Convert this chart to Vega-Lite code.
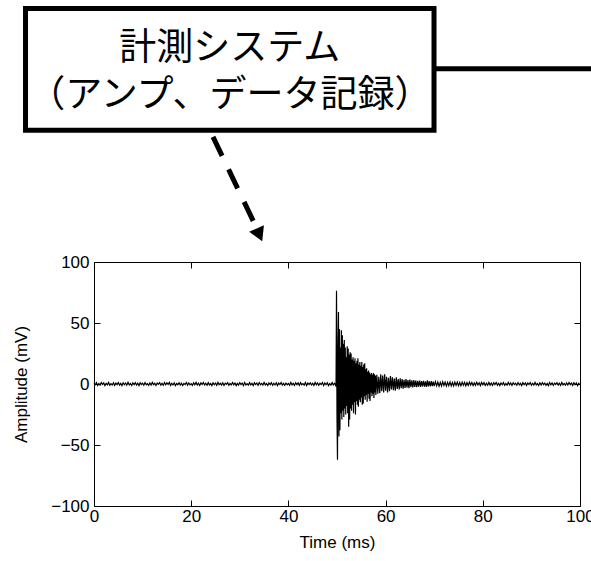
{
  "$schema": "https://vega.github.io/schema/vega-lite/v6.json",
  "width": 486,
  "height": 244,
  "autosize": {"type": "none"},
  "padding": {"left": 94, "top": 262, "right": 11, "bottom": 55},
  "background": "white",
  "config": {
    "view": {"stroke": "black", "strokeWidth": 1},
    "axis": {
      "grid": false,
      "domain": false,
      "tickColor": "black",
      "tickWidth": 1,
      "labelColor": "black",
      "titleColor": "black",
      "labelFont": "Liberation Sans",
      "titleFont": "Liberation Sans",
      "labelFontSize": 17,
      "titleFontSize": 17,
      "titleFontWeight": "normal",
      "labelFlush": false
    }
  },
  "datasets": {
    "signal": [
      {"t": 0.0, "v": 0.8}, {"t": 0.25, "v": -0.6}, {"t": 0.5, "v": 1.1}, {"t": 0.75, "v": -1.2}, {"t": 1.0, "v": 0.4},
      {"t": 1.25, "v": -0.9}, {"t": 1.5, "v": 1.2}, {"t": 1.75, "v": -0.4}, {"t": 2.0, "v": 0.9}, {"t": 2.25, "v": -1.3},
      {"t": 2.5, "v": 0.6}, {"t": 2.75, "v": -0.7}, {"t": 3.0, "v": 1.3}, {"t": 3.25, "v": -1.0}, {"t": 3.5, "v": 0.3},
      {"t": 3.75, "v": -0.8}, {"t": 4.0, "v": 1.0}, {"t": 4.25, "v": -1.1}, {"t": 4.5, "v": 0.7}, {"t": 4.75, "v": -0.5},
      {"t": 5.0, "v": 1.2}, {"t": 5.25, "v": -0.9}, {"t": 5.5, "v": 0.5}, {"t": 5.75, "v": -1.3}, {"t": 6.0, "v": 1.0},
      {"t": 6.25, "v": -0.6}, {"t": 6.5, "v": 0.8}, {"t": 6.75, "v": -1.0}, {"t": 7.0, "v": 1.4}, {"t": 7.25, "v": -0.7},
      {"t": 7.5, "v": 0.4}, {"t": 7.75, "v": -1.2}, {"t": 8.0, "v": 0.9}, {"t": 8.25, "v": -0.5}, {"t": 8.5, "v": 1.1},
      {"t": 8.75, "v": -0.9}, {"t": 9.0, "v": 0.6}, {"t": 9.25, "v": -1.3}, {"t": 9.5, "v": 1.0}, {"t": 9.75, "v": -0.4},
      {"t": 10.0, "v": 0.7}, {"t": 10.25, "v": -1.0}, {"t": 10.5, "v": 1.2}, {"t": 10.75, "v": -0.6}, {"t": 11.0, "v": 0.3},
      {"t": 11.25, "v": -1.1}, {"t": 11.5, "v": 0.9}, {"t": 11.75, "v": -0.8}, {"t": 12.0, "v": 1.3}, {"t": 12.25, "v": -0.5},
      {"t": 12.5, "v": 0.6}, {"t": 12.75, "v": -1.2}, {"t": 13.0, "v": 0.8}, {"t": 13.25, "v": -0.3}, {"t": 13.5, "v": 1.1},
      {"t": 13.75, "v": -0.9}, {"t": 14.0, "v": 0.5}, {"t": 14.25, "v": -1.0}, {"t": 14.5, "v": 1.2}, {"t": 14.75, "v": -0.7},
      {"t": 15.0, "v": 0.9}, {"t": 15.25, "v": -0.4}, {"t": 15.5, "v": 1.3}, {"t": 15.75, "v": -1.1}, {"t": 16.0, "v": 0.6},
      {"t": 16.25, "v": -0.8}, {"t": 16.5, "v": 1.0}, {"t": 16.75, "v": -1.3}, {"t": 17.0, "v": 0.4}, {"t": 17.25, "v": -0.6},
      {"t": 17.5, "v": 1.1}, {"t": 17.75, "v": -0.9}, {"t": 18.0, "v": 0.7}, {"t": 18.25, "v": -1.2}, {"t": 18.5, "v": 0.5},
      {"t": 18.75, "v": -0.5}, {"t": 19.0, "v": 1.2}, {"t": 19.25, "v": -1.0}, {"t": 19.5, "v": 0.8}, {"t": 19.75, "v": -0.7},
      {"t": 20.0, "v": 0.3}, {"t": 20.25, "v": -1.1}, {"t": 20.5, "v": 1.0}, {"t": 20.75, "v": -0.6}, {"t": 21.0, "v": 1.3},
      {"t": 21.25, "v": -0.9}, {"t": 21.5, "v": 0.6}, {"t": 21.75, "v": -1.2}, {"t": 22.0, "v": 0.9}, {"t": 22.25, "v": -0.4},
      {"t": 22.5, "v": 1.2}, {"t": 22.75, "v": -0.8}, {"t": 23.0, "v": 0.5}, {"t": 23.25, "v": -1.0}, {"t": 23.5, "v": 1.1},
      {"t": 23.75, "v": -0.7}, {"t": 24.0, "v": 0.4}, {"t": 24.25, "v": -1.3}, {"t": 24.5, "v": 1.0}, {"t": 24.75, "v": -0.6},
      {"t": 25.0, "v": 0.8}, {"t": 25.25, "v": -1.1}, {"t": 25.5, "v": 1.3}, {"t": 25.75, "v": -0.5}, {"t": 26.0, "v": 0.6},
      {"t": 26.25, "v": -0.9}, {"t": 26.5, "v": 1.0}, {"t": 26.75, "v": -1.2}, {"t": 27.0, "v": 0.7}, {"t": 27.25, "v": -0.3},
      {"t": 27.5, "v": 1.1}, {"t": 27.75, "v": -1.0}, {"t": 28.0, "v": 0.4}, {"t": 28.25, "v": -0.8}, {"t": 28.5, "v": 1.2},
      {"t": 28.75, "v": -0.6}, {"t": 29.0, "v": 0.9}, {"t": 29.25, "v": -1.3}, {"t": 29.5, "v": 0.5}, {"t": 29.75, "v": -0.9},
      {"t": 30.0, "v": 1.0}, {"t": 30.25, "v": -0.5}, {"t": 30.5, "v": 0.7}, {"t": 30.75, "v": -1.2}, {"t": 31.0, "v": 1.3},
      {"t": 31.25, "v": -0.8}, {"t": 31.5, "v": 0.3}, {"t": 31.75, "v": -1.0}, {"t": 32.0, "v": 1.1}, {"t": 32.25, "v": -0.7},
      {"t": 32.5, "v": 0.6}, {"t": 32.75, "v": -1.3}, {"t": 33.0, "v": 1.0}, {"t": 33.25, "v": -0.4}, {"t": 33.5, "v": 0.8},
      {"t": 33.75, "v": -1.1}, {"t": 34.0, "v": 1.2}, {"t": 34.25, "v": -0.6}, {"t": 34.5, "v": 0.5}, {"t": 34.75, "v": -0.9},
      {"t": 35.0, "v": 1.3}, {"t": 35.25, "v": -0.7}, {"t": 35.5, "v": 0.4}, {"t": 35.75, "v": -1.2}, {"t": 36.0, "v": 0.9},
      {"t": 36.25, "v": -0.5}, {"t": 36.5, "v": 1.1}, {"t": 36.75, "v": -1.0}, {"t": 37.0, "v": 0.6}, {"t": 37.25, "v": -0.8},
      {"t": 37.5, "v": 1.0}, {"t": 37.75, "v": -1.3}, {"t": 38.0, "v": 0.7}, {"t": 38.25, "v": -0.4}, {"t": 38.5, "v": 1.2},
      {"t": 38.75, "v": -0.9}, {"t": 39.0, "v": 0.5}, {"t": 39.25, "v": -1.1}, {"t": 39.5, "v": 0.8}, {"t": 39.75, "v": -0.6},
      {"t": 40.0, "v": 0.4}, {"t": 40.25, "v": -1.0}, {"t": 40.5, "v": 1.3}, {"t": 40.75, "v": -0.7}, {"t": 41.0, "v": 0.6},
      {"t": 41.25, "v": -1.2}, {"t": 41.5, "v": 1.0}, {"t": 41.75, "v": -0.5}, {"t": 42.0, "v": 0.9}, {"t": 42.25, "v": -1.1},
      {"t": 42.5, "v": 1.1}, {"t": 42.75, "v": -0.6}, {"t": 43.0, "v": 0.3}, {"t": 43.25, "v": -0.9}, {"t": 43.5, "v": 1.2},
      {"t": 43.75, "v": -1.3}, {"t": 44.0, "v": 0.7}, {"t": 44.25, "v": -0.4}, {"t": 44.5, "v": 1.0}, {"t": 44.75, "v": -0.8},
      {"t": 45.0, "v": 0.5}, {"t": 45.25, "v": -1.1}, {"t": 45.5, "v": 1.3}, {"t": 45.75, "v": -0.7}, {"t": 46.0, "v": 0.9},
      {"t": 46.25, "v": -1.0}, {"t": 46.5, "v": 0.6}, {"t": 46.75, "v": -0.5}, {"t": 47.0, "v": 1.2}, {"t": 47.25, "v": -1.2},
      {"t": 47.5, "v": 0.8}, {"t": 47.75, "v": -0.6}, {"t": 48.0, "v": 1.0}, {"t": 48.25, "v": -1.3}, {"t": 48.5, "v": 0.4},
      {"t": 48.75, "v": -0.9}, {"t": 49.0, "v": 1.1}, {"t": 49.25, "v": -0.7}, {"t": 49.5, "v": 0.6},
      {"t": 49.7, "v": -0.8}, {"t": 49.8, "v": -2}, {"t": 49.9, "v": 76.5}, {"t": 50.0, "v": -28}, {"t": 50.1, "v": -62},
      {"t": 50.2, "v": 34}, {"t": 50.3, "v": 59}, {"t": 50.4, "v": -43}, {"t": 50.5, "v": 45}, {"t": 50.6, "v": -38},
      {"t": 50.7, "v": 30}, {"t": 50.8, "v": -24}, {"t": 50.9, "v": 44}, {"t": 51.0, "v": -29}, {"t": 51.1, "v": 40},
      {"t": 51.2, "v": -22}, {"t": 51.3, "v": 33}, {"t": 51.4, "v": -27}, {"t": 51.5, "v": 36}, {"t": 51.6, "v": -20},
      {"t": 51.7, "v": 30}, {"t": 51.8, "v": -25}, {"t": 51.9, "v": 22}, {"t": 52.0, "v": -18}, {"t": 52.1, "v": 31},
      {"t": 52.2, "v": -24}, {"t": 52.3, "v": 29}, {"t": 52.4, "v": -35}, {"t": 52.5, "v": 24}, {"t": 52.6, "v": -29},
      {"t": 52.7, "v": 26}, {"t": 52.8, "v": -20}, {"t": 52.9, "v": 25}, {"t": 53.0, "v": -22}, {"t": 53.1, "v": 20},
      {"t": 53.2, "v": -17}, {"t": 53.3, "v": 22}, {"t": 53.4, "v": -24}, {"t": 53.5, "v": 19}, {"t": 53.6, "v": -15},
      {"t": 53.7, "v": 21}, {"t": 53.8, "v": -25}, {"t": 53.9, "v": 17}, {"t": 54.0, "v": -14}, {"t": 54.1, "v": 19},
      {"t": 54.2, "v": -17}, {"t": 54.3, "v": 21}, {"t": 54.4, "v": -18.6}, {"t": 54.5, "v": 16}, {"t": 54.6, "v": -13},
      {"t": 54.7, "v": 18}, {"t": 54.8, "v": -15}, {"t": 54.9, "v": 15}, {"t": 55.0, "v": -11}, {"t": 55.1, "v": 18},
      {"t": 55.2, "v": -17}, {"t": 55.3, "v": 14}, {"t": 55.4, "v": -16}, {"t": 55.5, "v": 16}, {"t": 55.6, "v": -10},
      {"t": 55.7, "v": 17}, {"t": 55.8, "v": -13}, {"t": 55.9, "v": 12}, {"t": 56.0, "v": -9}, {"t": 56.1, "v": 13},
      {"t": 56.2, "v": -14.5}, {"t": 56.3, "v": 10}, {"t": 56.4, "v": -8}, {"t": 56.5, "v": 11}, {"t": 56.6, "v": -12},
      {"t": 56.7, "v": 9.5}, {"t": 56.8, "v": -14}, {"t": 56.9, "v": 8}, {"t": 57.0, "v": -7}, {"t": 57.1, "v": 9},
      {"t": 57.2, "v": -10}, {"t": 57.3, "v": 7.5}, {"t": 57.4, "v": -8}, {"t": 57.5, "v": 9}, {"t": 57.6, "v": -11.5},
      {"t": 57.7, "v": 8}, {"t": 57.8, "v": -7}, {"t": 57.9, "v": 7}, {"t": 58.0, "v": -9},
      {"t": 58.2, "v": 7.5}, {"t": 58.4, "v": -8}, {"t": 58.6, "v": 6}, {"t": 58.8, "v": -7.5}, {"t": 59.0, "v": 8},
      {"t": 59.2, "v": -6}, {"t": 59.4, "v": 7}, {"t": 59.6, "v": -7}, {"t": 59.8, "v": 8}, {"t": 60.0, "v": -5.5},
      {"t": 60.2, "v": 6}, {"t": 60.4, "v": -7}, {"t": 60.6, "v": 5}, {"t": 60.8, "v": -6}, {"t": 61.0, "v": 6.5},
      {"t": 61.2, "v": -4.5}, {"t": 61.4, "v": 5.5}, {"t": 61.6, "v": -5}, {"t": 61.8, "v": 4.5}, {"t": 62.0, "v": -5.5},
      {"t": 62.2, "v": 5.5}, {"t": 62.4, "v": -4}, {"t": 62.6, "v": 4}, {"t": 62.8, "v": -4.5}, {"t": 63.0, "v": 4.6},
      {"t": 63.2, "v": -3.5}, {"t": 63.4, "v": 4}, {"t": 63.6, "v": -3.8}, {"t": 63.8, "v": 3.5}, {"t": 64.0, "v": -3.2},
      {"t": 64.2, "v": 4}, {"t": 64.4, "v": -3}, {"t": 64.6, "v": 3.2}, {"t": 64.8, "v": -3.4}, {"t": 65.0, "v": 3.6},
      {"t": 65.2, "v": -2.6}, {"t": 65.4, "v": 3}, {"t": 65.6, "v": -2.8}, {"t": 65.8, "v": 3.3}, {"t": 66.0, "v": -2.4},
      {"t": 66.2, "v": 2.8}, {"t": 66.4, "v": -2.6}, {"t": 66.6, "v": 2.5}, {"t": 66.8, "v": -2.2}, {"t": 67.0, "v": 2.7},
      {"t": 67.2, "v": -2.3}, {"t": 67.4, "v": 2.4}, {"t": 67.6, "v": -2}, {"t": 67.8, "v": 2.6}, {"t": 68.0, "v": -2.1},
      {"t": 68.2, "v": 2.2}, {"t": 68.4, "v": -2.4}, {"t": 68.6, "v": 3}, {"t": 68.8, "v": -1.9}, {"t": 69.0, "v": 2.1},
      {"t": 69.2, "v": -2}, {"t": 69.4, "v": 2.3}, {"t": 69.6, "v": -1.8}, {"t": 69.8, "v": 2}, {"t": 70.0, "v": -1.7},
      {"t": 70.25, "v": 1.9}, {"t": 70.5, "v": -1.5}, {"t": 70.75, "v": 1.6}, {"t": 71.0, "v": -1.8}, {"t": 71.25, "v": 1.3},
      {"t": 71.5, "v": -1.6}, {"t": 71.75, "v": 1.8}, {"t": 72.0, "v": -1.2}, {"t": 72.25, "v": 1.5}, {"t": 72.5, "v": -1.7},
      {"t": 72.75, "v": 1.4}, {"t": 73.0, "v": -1.3}, {"t": 73.25, "v": 1.7}, {"t": 73.5, "v": -1.5}, {"t": 73.75, "v": 1.2},
      {"t": 74.0, "v": -1.6}, {"t": 74.25, "v": 1.5}, {"t": 74.5, "v": -1.1}, {"t": 74.75, "v": 1.6}, {"t": 75.0, "v": -1.4},
      {"t": 75.25, "v": 1.2}, {"t": 75.5, "v": -1.5}, {"t": 75.75, "v": 1.4}, {"t": 76.0, "v": -1.0}, {"t": 76.25, "v": 1.3},
      {"t": 76.5, "v": -1.4}, {"t": 76.75, "v": 1.1}, {"t": 77.0, "v": -1.2}, {"t": 77.25, "v": 1.5}, {"t": 77.5, "v": -0.9},
      {"t": 77.75, "v": 1.2}, {"t": 78.0, "v": -1.3}, {"t": 78.25, "v": 0.9}, {"t": 78.5, "v": -1.1}, {"t": 78.75, "v": 1.4},
      {"t": 79.0, "v": -0.8}, {"t": 79.25, "v": 1.0}, {"t": 79.5, "v": -1.3}, {"t": 79.75, "v": 1.2}, {"t": 80.0, "v": -0.7},
      {"t": 80.25, "v": 1.1}, {"t": 80.5, "v": -1.2}, {"t": 80.75, "v": 0.6}, {"t": 81.0, "v": -1.0}, {"t": 81.25, "v": 1.3},
      {"t": 81.5, "v": -0.9}, {"t": 81.75, "v": 0.8}, {"t": 82.0, "v": -1.2}, {"t": 82.25, "v": 1.0}, {"t": 82.5, "v": -0.5},
      {"t": 82.75, "v": 1.2}, {"t": 83.0, "v": -1.0}, {"t": 83.25, "v": 0.7}, {"t": 83.5, "v": -1.3}, {"t": 83.75, "v": 0.9},
      {"t": 84.0, "v": -0.6}, {"t": 84.25, "v": 1.1}, {"t": 84.5, "v": -1.1}, {"t": 84.75, "v": 0.4}, {"t": 85.0, "v": -0.9},
      {"t": 85.25, "v": 1.3}, {"t": 85.5, "v": -0.7}, {"t": 85.75, "v": 0.8}, {"t": 86.0, "v": -1.2}, {"t": 86.25, "v": 1.0},
      {"t": 86.5, "v": -0.5}, {"t": 86.75, "v": 0.6}, {"t": 87.0, "v": -1.0}, {"t": 87.25, "v": 1.2}, {"t": 87.5, "v": -0.8},
      {"t": 87.75, "v": 0.5}, {"t": 88.0, "v": -1.3}, {"t": 88.25, "v": 1.1}, {"t": 88.5, "v": -0.6}, {"t": 88.75, "v": 0.9},
      {"t": 89.0, "v": -1.1}, {"t": 89.25, "v": 0.7}, {"t": 89.5, "v": -0.4}, {"t": 89.75, "v": 1.2}, {"t": 90.0, "v": -1.0},
      {"t": 90.25, "v": 0.6}, {"t": 90.5, "v": -0.9}, {"t": 90.75, "v": 1.3}, {"t": 91.0, "v": -0.7}, {"t": 91.25, "v": 0.4},
      {"t": 91.5, "v": -1.2}, {"t": 91.75, "v": 1.0}, {"t": 92.0, "v": -0.8}, {"t": 92.25, "v": 1.1}, {"t": 92.5, "v": -0.5},
      {"t": 92.75, "v": 0.8}, {"t": 93.0, "v": -1.1}, {"t": 93.25, "v": 0.5}, {"t": 93.5, "v": -1.3}, {"t": 93.75, "v": 1.2},
      {"t": 94.0, "v": -0.6}, {"t": 94.25, "v": 0.9}, {"t": 94.5, "v": -1.0}, {"t": 94.75, "v": 0.7}, {"t": 95.0, "v": -0.4},
      {"t": 95.25, "v": 1.1}, {"t": 95.5, "v": -0.9}, {"t": 95.75, "v": 0.6}, {"t": 96.0, "v": -1.2}, {"t": 96.25, "v": 1.3},
      {"t": 96.5, "v": -0.7}, {"t": 96.75, "v": 0.4}, {"t": 97.0, "v": -1.0}, {"t": 97.25, "v": 0.9}, {"t": 97.5, "v": -0.8},
      {"t": 97.75, "v": 1.2}, {"t": 98.0, "v": -0.5}, {"t": 98.25, "v": 0.7}, {"t": 98.5, "v": -1.1}, {"t": 98.75, "v": 1.0},
      {"t": 99.0, "v": -0.6}, {"t": 99.25, "v": 0.8}, {"t": 99.5, "v": -1.3}, {"t": 99.75, "v": 0.5}, {"t": 100.0, "v": -0.8}
    ],
    "box": [{"x1": -14.09, "x2": 69.96, "y1": 307.8, "y2": 207.95}],
    "link": [{"x": 69.96, "y": 258.4}, {"x": 104.5, "y": 258.4}],
    "arrow": [{"x": 24.49, "y": 202.5}, {"x": 33.5, "y": 127.5}],
    "head": [{"x": 34.03, "y": 122.2}],
    "labels": [
      {"x": 27.94, "y": 274.8, "text": "計測システム"},
      {"x": 27.94, "y": 236.1, "text": "（アンプ、データ記録）"}
    ]
  },
  "layer": [
    {
      "data": {"name": "signal"},
      "mark": {"type": "line", "color": "black", "strokeWidth": 1.2},
      "encoding": {
        "x": {
          "field": "t", "type": "quantitative",
          "scale": {"domain": [0, 100], "nice": false, "zero": false},
          "axis": {"orient": "bottom", "values": [0, 20, 40, 60, 80, 100], "tickSize": -6, "labelPadding": 8, "title": "Time (ms)", "titlePadding": 10}
        },
        "y": {
          "field": "v", "type": "quantitative",
          "scale": {"domain": [-100, 100], "nice": false, "zero": false},
          "axis": {"orient": "left", "values": [-100, -50, 0, 50, 100], "tickSize": -6, "labelPadding": 11, "title": "Amplitude (mV)", "titlePadding": 20}
        }
      }
    },
    {
      "data": {"name": "box"},
      "mark": {"type": "rect", "fill": "white", "stroke": "black", "strokeWidth": 5},
      "encoding": {
        "x": {"field": "x1", "type": "quantitative", "axis": {"orient": "top", "values": [0, 20, 40, 60, 80, 100], "tickSize": -6, "labels": false, "title": null}},
        "x2": {"field": "x2"},
        "y": {"field": "y1", "type": "quantitative", "axis": {"orient": "right", "values": [-100, -50, 0, 50, 100], "tickSize": -6, "labels": false, "title": null}},
        "y2": {"field": "y2"}
      }
    },
    {
      "data": {"name": "link"},
      "mark": {"type": "line", "color": "black", "strokeWidth": 5},
      "encoding": {
        "x": {"field": "x", "type": "quantitative", "axis": null},
        "y": {"field": "y", "type": "quantitative", "axis": null}
      }
    },
    {
      "data": {"name": "arrow"},
      "mark": {"type": "line", "color": "black", "strokeWidth": 5, "strokeDash": [21, 15]},
      "encoding": {
        "x": {"field": "x", "type": "quantitative", "axis": null},
        "y": {"field": "y", "type": "quantitative", "axis": null}
      }
    },
    {
      "data": {"name": "head"},
      "mark": {"type": "point", "shape": "triangle-down", "filled": true, "color": "black", "opacity": 1, "size": 260, "angle": -24},
      "encoding": {
        "x": {"field": "x", "type": "quantitative", "axis": null},
        "y": {"field": "y", "type": "quantitative", "axis": null}
      }
    },
    {
      "data": {"name": "labels"},
      "mark": {"type": "text", "font": "Noto Sans CJK JP", "fontSize": 37, "align": "center", "baseline": "middle", "color": "black"},
      "encoding": {
        "x": {"field": "x", "type": "quantitative", "axis": null},
        "y": {"field": "y", "type": "quantitative", "axis": null},
        "text": {"field": "text"}
      }
    }
  ]
}
